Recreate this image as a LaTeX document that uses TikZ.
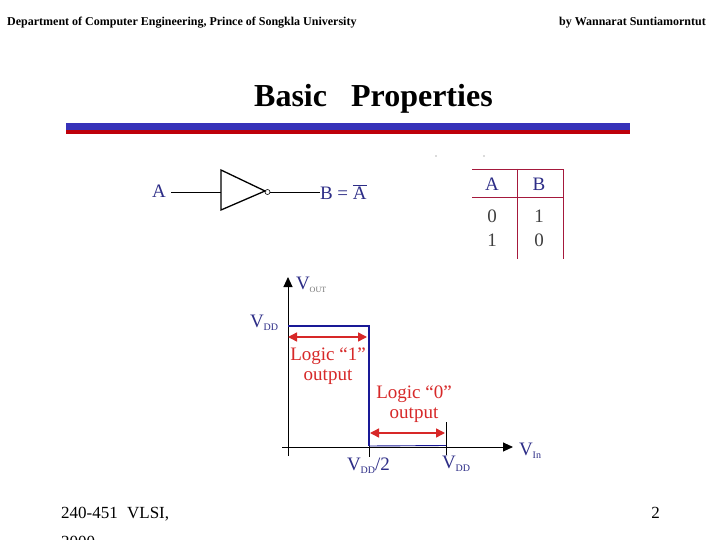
\documentclass[tikz,border=0pt]{standalone}
\usepackage{fontspec}
\setmainfont{Liberation Serif}
\usetikzlibrary{arrows.meta}
\definecolor{labblue}{RGB}{45,45,135}
\definecolor{logicred}{RGB}{215,40,40}
\definecolor{tabred}{RGB}{165,25,60}
\definecolor{curveblue}{RGB}{25,25,150}
\definecolor{barblue}{RGB}{55,50,185}
\definecolor{barred}{RGB}{190,0,10}
\tikzset{
  x=1pt,y=-1pt,
  txt/.style={inner sep=0pt,outer sep=0pt,font=\fontsize{#1}{#1}\selectfont},
  txt/.default=12,
  lab/.style={txt=19,text=labblue},
  tabt/.style={txt=19,text=black!75},
  tabh/.style={txt=19,text=labblue},
  logic/.style={txt=19,text=logicred,align=center},
  wire/.style={draw=black,line width=0.9pt},
  tabline/.style={draw=tabred,line width=0.9pt},
  axis/.style={draw=black,line width=0.9pt},
  axtip/.style={-{Triangle[length=10pt,width=9pt]}},
  curve/.style={draw=curveblue,line width=2.4pt,line join=miter},
  redarr/.style={draw=logicred,line width=1.4pt,{Triangle[length=9pt,width=9pt]}-{Triangle[length=9pt,width=9pt]}}
}
\begin{document}
\begin{tikzpicture}
\useasboundingbox (0,0) rectangle (720,540);
\clip (0,0) rectangle (720,540);
\fill[white] (0,0) rectangle (720,540);
% header
\node[font=\bfseries\fontsize{12}{12}\selectfont,inner sep=0pt,anchor=base west] (hl) at (7,26) {Department of Computer Engineering, Prince of Songkla University};
\node[font=\bfseries\fontsize{12}{12}\selectfont,inner sep=0pt,anchor=base east] (hr) at (706,26) {by Wannarat Suntiamorntut};
\node[font=\bfseries\fontsize{32}{32}\selectfont,inner sep=0pt,anchor=base west] (title) at (254,107) {Basic\hspace{24pt}Properties};
\fill[barblue] (66,123) rectangle (630,130);
\fill[barred] (66,130) rectangle (630,134);
% specks
\fill[black!60] (436,156) circle (0.6);
\fill[black!60] (484,156) circle (0.6);
% inverter
\node[lab,anchor=center] (a) at (159,191) {A};
\coordinate (t1) at (221,170);
\coordinate (t2) at (221,210);
\coordinate (t3) at (265,191);
\draw[draw=black,line width=1.3pt,line join=miter] (t1) -- (t2) -- (t3) -- cycle;
\node[circle,draw=black,line width=0.6pt,inner sep=0pt,minimum size=5pt] (bub) at (267.5,192) {};
\coordinate (ain) at (221,192);
\coordinate (aw) at (171,192);
\draw[wire] (aw) -- (ain);
\node[lab,anchor=west] (b) at (320,192) {B = $\overline{\mbox{A}}$};
\draw[wire] (bub) -- (b);
% table
\coordinate (tl) at (472,169);
\coordinate (tr) at (563,169);
\coordinate (ml) at (472,197);
\coordinate (mr) at (563,197);
\coordinate (cb) at (517,259);
\coordinate (ct) at (517,169);
\coordinate (rb) at (563,259);
\draw[tabline] (tl) -- (tr) -- (rb);
\draw[tabline] (ml) -- (mr);
\draw[tabline] (ct) -- (cb);
\node[tabh] (ha) at (492,184) {A};
\node[tabh] (hb) at (539,184) {B};
\node[tabt] (c1) at (492,216) {0};
\node[tabt] (c2) at (539,216) {1};
\node[tabt] (c3) at (492,240) {1};
\node[tabt] (c4) at (539,240) {0};
% graph axes
\coordinate (yb) at (288,456);
\coordinate (yt) at (288,277);
\coordinate (xl) at (282,447);
\coordinate (xr) at (513,447);
\draw[axis,axtip] (yb) -- (yt);
\draw[axis,axtip] (xl) -- (xr);
\coordinate (p1) at (288,326);
\coordinate (p2) at (369,326);
\coordinate (p3) at (369,446);
\coordinate (p4) at (446,445.5);
\coordinate (tk1) at (369,457);
\coordinate (tk2a) at (446,422);
\coordinate (tk2b) at (446,455);
\draw[axis] (p3) -- (tk1);
\draw[axis] (tk2a) -- (tk2b);
\draw[curve] (p1) -- (p2) -- (p3);
\draw[draw=curveblue,line width=0.9pt] (p3) -- (p4);
\coordinate (r1a) at (288,337);
\coordinate (r1b) at (367,337);
\coordinate (r2a) at (370,433);
\coordinate (r2b) at (445,433);
\draw[redarr] (r1a) -- (r1b);
\draw[redarr] (r2a) -- (r2b);
\node[logic] (l1) at (328,356) {Logic “1”};
\node[logic] (o1) at (328,377) {output};
\node[logic] (l0) at (414,394) {Logic “0”};
\node[logic] (o0) at (414,415) {output};
% axis labels
\node[lab,anchor=base west] (vout) at (296,289) {V\raisebox{-3pt}{\color{black!55}\fontsize{8}{8}\selectfont OUT}};
\node[lab,anchor=base west] (vdd) at (250,327) {V\raisebox{-3pt}{\fontsize{10}{10}\selectfont DD}};
\node[lab,anchor=base west] (vdd2) at (347,470) {V\raisebox{-3pt}{\fontsize{10}{10}\selectfont DD}/2};
\node[lab,anchor=base west] (vdd3) at (442,468) {V\raisebox{-3pt}{\fontsize{10}{10}\selectfont DD}};
\node[lab,anchor=base west] (vin) at (519,455) {V\raisebox{-3pt}{\fontsize{10}{10}\selectfont In}};
% footer
\node[font=\fontsize{17}{17}\selectfont,inner sep=0pt,anchor=base west] (f1) at (61,518) {240-451\hspace{5pt} VLSI,};
\node[font=\fontsize{17}{17}\selectfont,inner sep=0pt,anchor=base west] (f2) at (61,547) {2000};
\node[font=\fontsize{17}{17}\selectfont,inner sep=0pt,anchor=base east] (pg) at (660,518) {2};
\end{tikzpicture}
\end{document}
